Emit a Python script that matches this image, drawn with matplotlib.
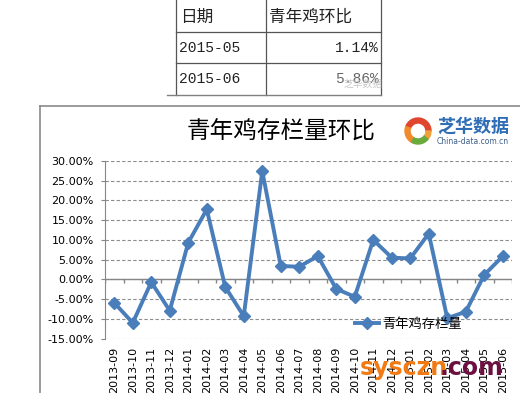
import matplotlib
matplotlib.use("Agg")
import matplotlib.pyplot as plt
from matplotlib.patches import Wedge
import numpy as np

# 数据
months = ["2013-09", "2013-10", "2013-11", "2013-12", "2014-01", "2014-02",
          "2014-03", "2014-04", "2014-05", "2014-06", "2014-07", "2014-08",
          "2014-09", "2014-10", "2014-11", "2014-12", "2015-01", "2015-02",
          "2015-03", "2015-04", "2015-05", "2015-06"]
ratio = [-5.9, -11.0, -0.7, -7.9, 9.3, 17.7, -1.9, -9.3, 27.4, 3.4, 3.2, 5.9,
         -2.4, -4.4, 10.0, 5.5, 5.3, 11.6, -9.8, -8.2, 1.14, 5.86]
yticks = [-15, -10, -5, 0, 5, 10, 15, 20, 25, 30]
table_rows = 2  # 表格里显示最后两个月

plt.rcParams["font.family"] = ["DejaVu Sans", "Noto Sans CJK SC"]
cjk = ["Noto Sans CJK SC", "DejaVu Sans"]
mono = ["Liberation Mono", "Noto Sans CJK SC"]

W, H = 520, 393
fig = plt.figure(figsize=(W / 100, H / 100), dpi=100)

# 背景层：表格、图表边框（像素坐标）
bg = fig.add_axes([0, 0, 1, 1], zorder=-1)
bg.set_xlim(0, W)
bg.set_ylim(H, 0)
bg.axis("off")

edge = "#555555"
for x in [176, 266, 381]:
    bg.plot([x, x], [0, 95], color=edge, lw=0.9)
for y in [32, 63]:
    bg.plot([176, 381], [y, y], color=edge, lw=0.9)
bg.plot([167, 381], [95, 95], color="#808080", lw=1.0)

bg.text(180, 17, "日期", fontsize=12, family=cjk, va="center", color="#222222")
bg.text(269, 17, "青年鸡环比", fontsize=12, family=cjk, va="center", color="#222222")
for i in range(table_rows):
    idx = len(months) - table_rows + i
    yy = 48 + 31 * i
    bg.text(179, yy, months[idx], fontsize=10.5, family=mono, va="center", color="#222222")
    bg.text(379, yy, f"{ratio[idx]:.2f}%", fontsize=10.5, family=mono, va="center",
            ha="right", color="#222222" if i == 0 else "#666666")
bg.text(382, 84, "芝华数据", fontsize=7, family=cjk, va="center", ha="right",
        color="#c8c8c8")

# 图表边框
bg.plot([40, W], [106, 106], color="#8a8a8a", lw=1.2)
bg.plot([40, 40], [106, H], color="#8a8a8a", lw=1.2)

# 标题与标志
bg.text(281, 132, "青年鸡存栏量环比", fontsize=17, family=cjk, ha="center",
        va="center", color="black")
cx, cy = 418, 131
bg.add_patch(Wedge((cx, cy), 13, 200, 360, width=5, color="#e0452d"))
bg.add_patch(Wedge((cx, cy), 13, 0, 40, width=5, color="#f2a03a"))
bg.add_patch(Wedge((cx, cy), 13, 120, 200, width=5, color="#f08a2c"))
bg.add_patch(Wedge((cx, cy), 13, 40, 120, width=5, color="#6aaa3c"))
bg.text(437, 126, "芝华数据", fontsize=13, family=cjk, fontweight="bold",
        va="center", color="#2f6db5")
bg.text(437, 141, "China-data.com.cn", fontsize=5.5, va="center", color="#3d5f8a")

# 折线图
ax = fig.add_axes([105 / W, 1 - 338.7 / H, 407 / W, (338.7 - 160.8) / H])
x = np.arange(len(months))
blue = "#4a7ebb"
ax.plot(x, ratio, color=blue, lw=2.8, marker="D", markersize=6.5,
        label="青年鸡存栏量", zorder=3)

ax.set_xlim(-0.5, len(months) - 0.5)
ax.set_ylim(-15, 30)
ax.set_yticks(yticks)
ax.set_yticklabels([f"{v:.2f}%" for v in yticks])
ax.set_xticks(x)
ax.set_xticklabels(months, rotation=90, va="top")

for s in ["top", "right", "bottom"]:
    ax.spines[s].set_visible(False)
ax.spines["left"].set_color("#868686")
ax.tick_params(axis="y", length=3, pad=5, color="#868686", labelsize=8)
ax.tick_params(axis="x", length=0, pad=6, labelsize=8)

ax.grid(True, axis="y", color="#8c8c8c", lw=0.8, linestyle=(0, (3, 2)))
ax.set_axisbelow(True)

# 零轴及刻度
ax.axhline(0, color="#868686", lw=1.0, zorder=2)
bounds = np.arange(len(months) + 1) - 0.5
ax.vlines(bounds, -0.8, 0, color="#868686", lw=1.0, zorder=2)

ax.legend(loc="center left", bbox_to_anchor=(355 / W, 1 - 324 / H),
          bbox_transform=fig.transFigure, frameon=False, borderaxespad=0,
          borderpad=0, handlelength=1.8, handletextpad=0.3,
          prop={"family": cjk, "size": 9.5})

# 水印
fig.text(360 / W, 1 - 375 / H, "sysczn", fontsize=17, fontweight="bold",
         color="#f27a12", va="baseline")
fig.text(440 / W, 1 - 375 / H, ".com", fontsize=17, fontweight="bold",
         color="#6b1040", va="baseline")

fig.savefig("out.png", dpi=100)
